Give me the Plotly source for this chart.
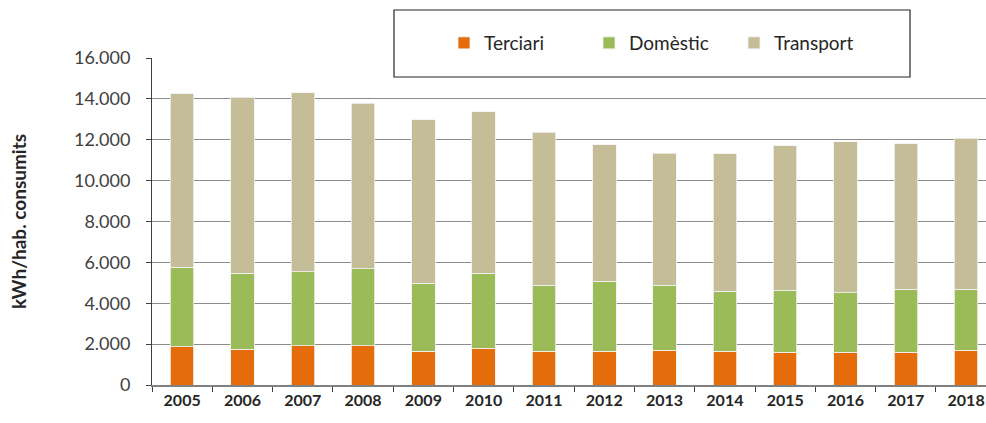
import plotly.graph_objects as go

years = ["2005", "2006", "2007", "2008", "2009", "2010", "2011", "2012",
         "2013", "2014", "2015", "2016", "2017", "2018"]
terciari = [1860, 1760, 1920, 1920, 1660, 1810, 1660, 1660, 1710, 1660, 1610, 1610, 1610, 1710]
domestic = [3910, 3720, 3610, 3760, 3310, 3670, 3210, 3410, 3160, 2920, 3020, 2910, 3070, 2970]
transport = [8470, 8590, 8760, 8100, 8000, 7890, 7490, 6690, 6480, 6740, 7080, 7380, 7130, 7400]

series = [("Terciari", terciari, "#E46C0A"),
          ("Domèstic", domestic, "#9BBB59"),
          ("Transport", transport, "#C4BD97")]

FONT = "Lato"
fig = go.Figure()
for name, vals, col in series:
    fig.add_trace(go.Bar(x=years, y=vals, name=name,
                         marker=dict(color=col, line=dict(color="#F2F2F2", width=0.8))))

# plot area: x 152..986, y 58..385
L, R, T, B = 152, 0, 58, 38
W, H = 986, 423
pw, ph = W - L - R, H - T - B
def px(x): return (x - L) / pw
def py(y): return (H - B - y) / ph

fig.update_layout(
    width=W, height=H,
    margin=dict(l=L, r=R, t=T, b=B, autoexpand=False),
    barmode="stack", bargap=0.61,
    plot_bgcolor="white", paper_bgcolor="white",
    font=dict(family=FONT, color="#404040", size=17),
    separators=",.",
    showlegend=True,
    legend=dict(orientation="h", x=px(444), xanchor="left", y=py(43), yanchor="middle",
                font=dict(family=FONT, size=19, color="#262626"),
                entrywidth=100, entrywidthmode="pixels",
                bgcolor="rgba(0,0,0,0)", borderwidth=0, traceorder="normal"),
    shapes=[dict(type="rect", xref="paper", yref="paper",
                 x0=px(394), x1=px(910), y0=py(77), y1=py(10),
                 line=dict(color="#262626", width=1.2), fillcolor="white", layer="below")],
    xaxis=dict(range=[-0.5, 13.33], showgrid=False, showline=True, linecolor="#808080",
               linewidth=1.5, ticks="outside", tickson="boundaries", ticklen=5,
               tickcolor="#404040", tickfont=dict(family=FONT, size=16, color="#262626",
                                                   weight="bold")),
    yaxis=dict(range=[0, 16000], dtick=2000, tickformat=",.0f", showgrid=True,
               gridcolor="#8C8C8C", gridwidth=1, showline=True, linecolor="#404040",
               linewidth=1, ticks="outside", ticklen=5, tickcolor="#404040",
               ticklabelstandoff=12,
               tickfont=dict(family=FONT, size=18, color="#404040"),
               title=dict(text="kWh/hab. consumits", standoff=42,
                          font=dict(family=FONT, size=19, color="#262626", weight="bold"))),
)
fig.write_html("out.html", config={"displayModeBar": False},
               post_script="document.body.style.margin='0px';document.body.style.overflow='hidden';")
